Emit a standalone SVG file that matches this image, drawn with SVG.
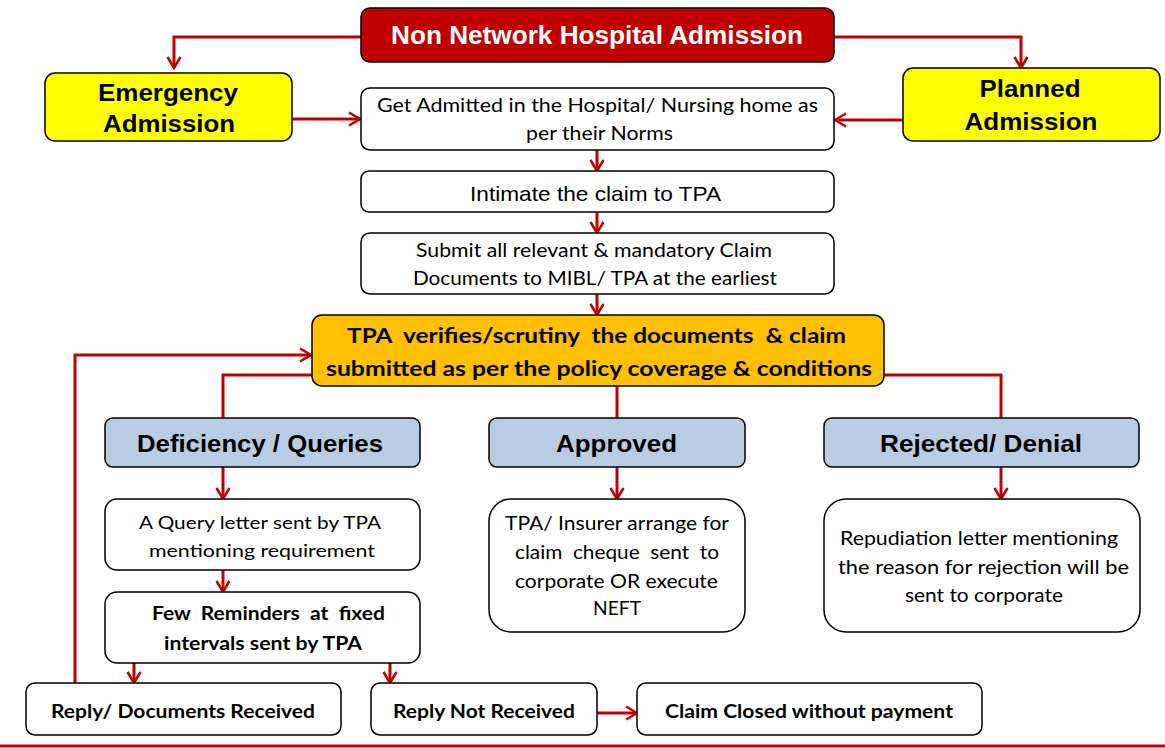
<svg xmlns="http://www.w3.org/2000/svg" width="1165" height="748" viewBox="0 0 1165 748">
<defs>
<marker id="arr" viewBox="0 0 14 16" refX="12" refY="8" markerWidth="14" markerHeight="16" markerUnits="userSpaceOnUse" orient="auto">
<path d="M1,1.5 L12,8 L1,14.5" fill="none" stroke="#C00000" stroke-width="2.5"/>
</marker>
<style>
.box{stroke:#000;stroke-width:1.5}
.w{fill:#fff}
.y{fill:#FFFF00}
.o{fill:#FFC000}
.b{fill:#B8CCE4}
.ln{fill:none;stroke:#C00000;stroke-width:3}
.ar{marker-end:url(#arr)}
.ab{font-family:"Liberation Sans",Arial,sans-serif;font-weight:bold;text-anchor:middle;dominant-baseline:central;fill:#000}
.ar2{font-family:"Liberation Sans",Arial,sans-serif;text-anchor:middle;dominant-baseline:central;fill:#000}
.cr{font-family:Lato,"Open Sans",sans-serif;text-anchor:middle;dominant-baseline:central;fill:#000}
.cb{font-family:Lato,"Open Sans",sans-serif;font-weight:bold;text-anchor:middle;dominant-baseline:central;fill:#000}
</style>
</defs>
<rect width="1165" height="748" fill="#fff"/>
<g id="connectors">
<path class="ln ar" d="M361,37 H174 V68"/>
<path class="ln ar" d="M834,37 H1021 V68"/>
<path class="ln ar" d="M292,119 H360"/>
<path class="ln ar" d="M903,120 H835"/>
<path class="ln ar" d="M597,150 V171"/>
<path class="ln ar" d="M597,212 V233"/>
<path class="ln ar" d="M597,294 V315"/>
<path class="ln" d="M312,375 H223 V418"/>
<path class="ln" d="M617,386 V418"/>
<path class="ln" d="M884,375 H1001 V418"/>
<path class="ln ar" d="M75,683 V355 H311"/>
<path class="ln ar" d="M223,467 V499"/>
<path class="ln ar" d="M223,570 V592"/>
<path class="ln ar" d="M134,663 V683"/>
<path class="ln ar" d="M390,663 V683"/>
<path class="ln ar" d="M617,467 V499"/>
<path class="ln ar" d="M1001,467 V499"/>
<path class="ln ar" d="M597,713 H637"/>
<path class="ln" d="M0,746 H1165"/>
</g>
<g id="title">
<rect class="box" x="361" y="8" width="473" height="54" rx="9" fill="#C00000"/>
<text class="ab" x="597" y="35" font-size="25" style="fill:#fff" textLength="412" lengthAdjust="spacingAndGlyphs">Non Network Hospital Admission</text>
</g>
<g id="emergency">
<rect class="box y" x="45" y="73" width="247" height="68" rx="10"/>
<text class="ab" x="168" y="92" font-size="24" textLength="140" lengthAdjust="spacingAndGlyphs">Emergency</text>
<text class="ab" x="169" y="123" font-size="24" textLength="132" lengthAdjust="spacingAndGlyphs">Admission</text>
</g>
<g id="planned">
<rect class="box y" x="903" y="68" width="257" height="73" rx="10"/>
<text class="ab" x="1030" y="88" font-size="24" textLength="101" lengthAdjust="spacingAndGlyphs">Planned</text>
<text class="ab" x="1031" y="121" font-size="24" textLength="133" lengthAdjust="spacingAndGlyphs">Admission</text>
</g>
<g id="admitted">
<rect class="box w" x="361" y="88" width="473" height="62" rx="9"/>
<text class="cr" x="597.5" y="105" font-size="18.5" textLength="441" lengthAdjust="spacingAndGlyphs">Get Admitted in the Hospital/ Nursing home as</text>
<text class="cr" x="599.5" y="133" font-size="18.5" textLength="147" lengthAdjust="spacingAndGlyphs">per their Norms</text>
</g>
<g id="intimate">
<rect class="box w" x="361" y="171" width="473" height="41" rx="8"/>
<text class="ar2" x="595.5" y="193" font-size="21" textLength="251" lengthAdjust="spacingAndGlyphs">Intimate the claim to TPA</text>
</g>
<g id="submit">
<rect class="box w" x="361" y="233" width="473" height="61" rx="9"/>
<text class="cr" x="594" y="250" font-size="18.5" textLength="356" lengthAdjust="spacingAndGlyphs">Submit all relevant &amp; mandatory Claim</text>
<text class="cr" x="595" y="278" font-size="18.5" textLength="364" lengthAdjust="spacingAndGlyphs">Documents to MIBL/ TPA at the earliest</text>
</g>
<g id="verify">
<rect class="box o" x="312" y="315" width="572" height="71" rx="10"/>
<text class="cb" x="596.5" y="334" font-size="21" xml:space="preserve" textLength="499" lengthAdjust="spacingAndGlyphs">TPA  verifies/scrutiny  the documents  &amp; claim</text>
<text class="cb" x="599" y="367" font-size="21" textLength="546" lengthAdjust="spacingAndGlyphs">submitted as per the policy coverage &amp; conditions</text>
</g>
<g id="deficiency">
<rect class="box b" x="105" y="418" width="315" height="49" rx="8"/>
<text class="ab" x="260" y="443" font-size="24" textLength="246" lengthAdjust="spacingAndGlyphs">Deficiency / Queries</text>
</g>
<g id="approved">
<rect class="box b" x="489" y="418" width="256" height="49" rx="8"/>
<text class="ab" x="616.5" y="443" font-size="24" textLength="121" lengthAdjust="spacingAndGlyphs">Approved</text>
</g>
<g id="rejected">
<rect class="box b" x="824" y="418" width="315" height="49" rx="8"/>
<text class="ab" x="981" y="443" font-size="24" textLength="202" lengthAdjust="spacingAndGlyphs">Rejected/ Denial</text>
</g>
<g id="query">
<rect class="box w" x="105" y="499" width="315" height="71" rx="12"/>
<text class="cr" x="260" y="522" font-size="18" textLength="242" lengthAdjust="spacingAndGlyphs">A Query letter sent by TPA</text>
<text class="cr" x="262" y="550" font-size="18" textLength="226" lengthAdjust="spacingAndGlyphs">mentioning requirement</text>
</g>
<g id="reminders">
<rect class="box w" x="105" y="592" width="315" height="71" rx="12"/>
<text class="cb" x="268.5" y="613" font-size="18.5" xml:space="preserve" textLength="233" lengthAdjust="spacingAndGlyphs">Few  Reminders  at  fixed</text>
<text class="cb" x="263" y="643" font-size="18.5" textLength="198" lengthAdjust="spacingAndGlyphs">intervals sent by TPA</text>
</g>
<g id="settle">
<rect class="box w" x="489" y="499" width="256" height="133" rx="22"/>
<text class="cr" x="617" y="523" font-size="18.5" textLength="224" lengthAdjust="spacingAndGlyphs">TPA/ Insurer arrange for</text>
<text class="cr" x="617" y="552" font-size="18.5" xml:space="preserve" textLength="204" lengthAdjust="spacingAndGlyphs">claim  cheque  sent  to</text>
<text class="cr" x="616.5" y="581" font-size="18.5" textLength="203" lengthAdjust="spacingAndGlyphs">corporate OR execute</text>
<text class="cr" x="617" y="608" font-size="18.5" textLength="48" lengthAdjust="spacingAndGlyphs">NEFT</text>
</g>
<g id="repudiation">
<rect class="box w" x="824" y="499" width="316" height="133" rx="22"/>
<text class="cr" x="979" y="538" font-size="18.5" textLength="278" lengthAdjust="spacingAndGlyphs">Repudiation letter mentioning</text>
<text class="cr" x="983.5" y="567" font-size="18.5" textLength="291" lengthAdjust="spacingAndGlyphs">the reason for rejection will be</text>
<text class="cr" x="984" y="595" font-size="18.5" textLength="158" lengthAdjust="spacingAndGlyphs">sent to corporate</text>
</g>
<g id="reply-received">
<rect class="box w" x="26" y="683" width="315" height="52" rx="9"/>
<text class="cb" x="183" y="710" font-size="19.5" textLength="264" lengthAdjust="spacingAndGlyphs">Reply/ Documents Received</text>
</g>
<g id="reply-not">
<rect class="box w" x="371" y="683" width="226" height="52" rx="9"/>
<text class="cb" x="484" y="710" font-size="19.5" textLength="182" lengthAdjust="spacingAndGlyphs">Reply Not Received</text>
</g>
<g id="closed">
<rect class="box w" x="637" y="683" width="345" height="52" rx="9"/>
<text class="cb" x="809" y="710" font-size="19.5" textLength="288" lengthAdjust="spacingAndGlyphs">Claim Closed without payment</text>
</g>
</svg>
